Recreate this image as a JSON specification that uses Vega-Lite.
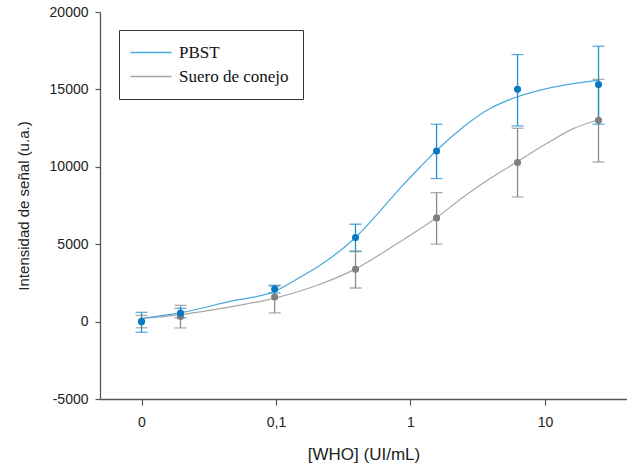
{
  "$schema": "https://vega.github.io/schema/vega-lite/v6.json",
  "autosize": "none",
  "width": 527,
  "height": 387,
  "padding": {"left": 100, "top": 12, "right": 0, "bottom": 69},
  "background": "white",
  "config": {
    "view": {"stroke": null},
    "axis": {
      "grid": false,
      "domainColor": "#555555",
      "domainWidth": 1.3,
      "tickColor": "#555555",
      "tickWidth": 1.2,
      "labelFont": "Liberation Sans",
      "labelFontSize": 14,
      "labelColor": "#222222",
      "titleFont": "Liberation Sans",
      "titleFontWeight": "normal",
      "titleColor": "#222222"
    }
  },
  "datasets": {
    "pts": [
      {"series": "Suero de conejo", "x": 0.01, "y": 0, "lo": -400, "hi": 400},
      {"series": "Suero de conejo", "x": 0.0195, "y": 330, "lo": -410, "hi": 1050},
      {"series": "Suero de conejo", "x": 0.0977, "y": 1590, "lo": 560, "hi": 2300},
      {"series": "Suero de conejo", "x": 0.39, "y": 3380, "lo": 2170, "hi": 4560},
      {"series": "Suero de conejo", "x": 1.5625, "y": 6700, "lo": 5000, "hi": 8330},
      {"series": "Suero de conejo", "x": 6.25, "y": 10270, "lo": 8050, "hi": 12490},
      {"series": "Suero de conejo", "x": 25, "y": 13000, "lo": 10310, "hi": 15650},
      {"series": "PBST", "x": 0.01, "y": 0, "lo": -690, "hi": 600},
      {"series": "PBST", "x": 0.0195, "y": 555, "lo": 250, "hi": 860},
      {"series": "PBST", "x": 0.0977, "y": 2100, "lo": 1850, "hi": 2345},
      {"series": "PBST", "x": 0.39, "y": 5430, "lo": 4520, "hi": 6290},
      {"series": "PBST", "x": 1.5625, "y": 11020, "lo": 9240, "hi": 12750},
      {"series": "PBST", "x": 6.25, "y": 15010, "lo": 12640, "hi": 17250},
      {"series": "PBST", "x": 25, "y": 15310, "lo": 12750, "hi": 17790}
    ],
    "curves": [
      {"series": "Suero de conejo", "x": 0.01026, "v": 213},
      {"series": "Suero de conejo", "x": 0.01966, "v": 452},
      {"series": "Suero de conejo", "x": 0.0455, "v": 950},
      {"series": "Suero de conejo", "x": 0.1, "v": 1537},
      {"series": "Suero de conejo", "x": 0.2125, "v": 2410},
      {"series": "Suero de conejo", "x": 0.3934, "v": 3424},
      {"series": "Suero de conejo", "x": 0.7802, "v": 4994},
      {"series": "Suero de conejo", "x": 1.566, "v": 6718},
      {"series": "Suero de conejo", "x": 2.47, "v": 8049},
      {"series": "Suero de conejo", "x": 3.9, "v": 9238},
      {"series": "Suero de conejo", "x": 6.162, "v": 10310},
      {"series": "Suero de conejo", "x": 10.29, "v": 11499},
      {"series": "Suero de conejo", "x": 16.23, "v": 12468},
      {"series": "Suero de conejo", "x": 24.23, "v": 13004},
      {"series": "Suero de conejo", "x": 25.64, "v": 13069},
      {"series": "PBST", "x": 0.01026, "v": 233},
      {"series": "PBST", "x": 0.01966, "v": 581},
      {"series": "PBST", "x": 0.0455, "v": 1305},
      {"series": "PBST", "x": 0.1, "v": 1990},
      {"series": "PBST", "x": 0.1508, "v": 2862},
      {"series": "PBST", "x": 0.2125, "v": 3637},
      {"series": "PBST", "x": 0.3934, "v": 5465},
      {"series": "PBST", "x": 0.5932, "v": 7132},
      {"series": "PBST", "x": 0.8355, "v": 8611},
      {"series": "PBST", "x": 1.1764, "v": 9970},
      {"series": "PBST", "x": 1.566, "v": 11066},
      {"series": "PBST", "x": 2.47, "v": 12571},
      {"series": "PBST", "x": 3.9, "v": 13760},
      {"series": "PBST", "x": 6.162, "v": 14509},
      {"series": "PBST", "x": 10.29, "v": 15052},
      {"series": "PBST", "x": 16.23, "v": 15375},
      {"series": "PBST", "x": 24.23, "v": 15588},
      {"series": "PBST", "x": 25.64, "v": 15614}
    ]
  },
  "resolve": {"scale": {"color": "independent"}, "legend": {"color": "independent"}},
  "layer": [
    {
      "data": {"name": "curves"},
      "mark": {"type": "line", "strokeWidth": 1.2, "interpolate": "monotone"},
      "encoding": {
        "x": {
          "field": "x", "type": "quantitative",
          "scale": {"type": "log", "domain": [0.004914, 40.71], "nice": false},
          "axis": {
            "values": [0.01, 0.1, 1, 10],
            "labelExpr": "datum.value < 0.05 ? '0' : datum.value < 0.5 ? '0,1' : datum.value < 5 ? '1' : '10'",
            "tickSize": 6,
            "labelPadding": 10,
            "title": "[WHO] (UI/mL)",
            "titleFontSize": 17,
            "titlePadding": 17
          }
        },
        "y": {
          "field": "v", "type": "quantitative",
          "scale": {"domain": [-5000, 20000], "nice": false, "zero": false},
          "axis": {
            "values": [-5000, 0, 5000, 10000, 15000, 20000],
            "labelExpr": "'' + datum.value",
            "tickSize": 5,
            "labelPadding": 7,
            "title": "Intensidad de señal (u.a.)",
            "titleFontSize": 15,
            "titlePadding": 18
          }
        },
        "color": {
          "field": "series", "type": "nominal",
          "scale": {"domain": ["PBST", "Suero de conejo"], "range": ["#4aa8dc", "#a8a8a8"]},
          "legend": {
            "title": null,
            "orient": "none",
            "legendX": 19,
            "legendY": 18,
            "strokeColor": "#333333",
            "fillColor": "white",
            "padding": 14,
            "labelFont": "Liberation Serif",
            "labelFontSize": 17,
            "labelColor": "#111111",
            "symbolType": "M-1,0H7.2",
            "symbolSize": 100,
            "symbolStrokeWidth": 1.4,
            "labelOffset": 35,
            "rowPadding": 6,
            "symbolOffset": -6
          }
        }
      }
    },
    {
      "data": {"name": "pts"},
      "mark": {"type": "rule", "strokeWidth": 1.3},
      "encoding": {
        "x": {"field": "x", "type": "quantitative"},
        "y": {"field": "lo", "type": "quantitative"},
        "y2": {"field": "hi"},
        "color": {"field": "series", "type": "nominal", "scale": {"domain": ["PBST", "Suero de conejo"], "range": ["#1e8fd2", "#8c8c8c"]}, "legend": null}
      }
    },
    {
      "data": {"name": "pts"},
      "mark": {"type": "tick", "orient": "horizontal", "size": 12, "thickness": 1.3},
      "encoding": {
        "x": {"field": "x", "type": "quantitative"},
        "y": {"field": "lo", "type": "quantitative"},
        "color": {"field": "series", "type": "nominal", "scale": {"domain": ["PBST", "Suero de conejo"], "range": ["#1e8fd2", "#8c8c8c"]}, "legend": null}
      }
    },
    {
      "data": {"name": "pts"},
      "mark": {"type": "tick", "orient": "horizontal", "size": 12, "thickness": 1.3},
      "encoding": {
        "x": {"field": "x", "type": "quantitative"},
        "y": {"field": "hi", "type": "quantitative"},
        "color": {"field": "series", "type": "nominal", "scale": {"domain": ["PBST", "Suero de conejo"], "range": ["#1e8fd2", "#8c8c8c"]}, "legend": null}
      }
    },
    {
      "data": {"name": "pts"},
      "mark": {"type": "point", "filled": true, "shape": "circle", "size": 50, "opacity": 1},
      "encoding": {
        "x": {"field": "x", "type": "quantitative"},
        "y": {"field": "y", "type": "quantitative"},
        "color": {"field": "series", "type": "nominal", "scale": {"domain": ["PBST", "Suero de conejo"], "range": ["#0a78c0", "#7f7f7f"]}, "legend": null}
      }
    },
    {
      "mark": {"type": "rule", "color": "#555555", "strokeWidth": 1.5},
      "encoding": {"y": {"datum": 20000}}
    }
  ]
}
